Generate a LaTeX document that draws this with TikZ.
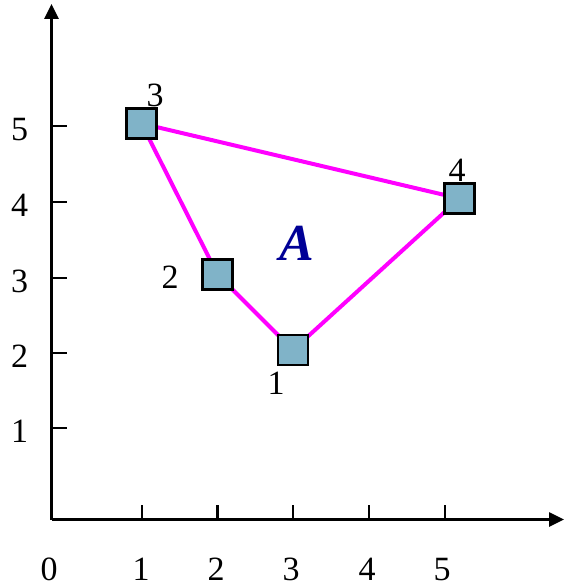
\documentclass[tikz,border=0pt]{standalone}
\usepackage{fontspec}
\setmainfont{Liberation Serif}
\usetikzlibrary{arrows.meta,backgrounds}
\definecolor{sqfill}{RGB}{128,179,200}
\definecolor{edgemag}{RGB}{255,0,255}
\definecolor{labblue}{RGB}{0,0,150}
\tikzset{
  axisline/.style={line width=2.6pt,-{Triangle[length=15pt,width=14pt]}},
  tickline/.style={line width=2.4pt},
  numlab/.style={font=\fontsize{34}{36}\selectfont,inner sep=0pt},
  ptbox/.style={draw=black,line width=2.4pt,fill=sqfill,minimum size=30pt,inner sep=0pt},
  edge/.style={draw=edgemag,line width=4pt}
}
\begin{document}
\begin{tikzpicture}[x=1pt,y=-1pt]
\useasboundingbox (0,0) rectangle (564,586);
% axes
\coordinate (O) at (51.5,519.5);
\coordinate (xend) at (564,519.5);
\coordinate (yend) at (51.5,4);
\draw[axisline] (O) -- (xend);
\draw[axisline] (O) -- (yend);
% x ticks
\foreach \x/\n in {142/1,217.6/2,293/3,368.7/4,445/5}
  \draw[tickline] (\x,519.5) -- (\x,505);
% y ticks
\foreach \y in {126,202,278,353,428}
  \draw[tickline] (51.5,\y) -- (67,\y);
% x labels
\foreach \x/\n in {49/0,141/1,216/2,291/3,367/4,442/5}
  \node[numlab] (xl\n) at (\x,569.5) {\n};
% y labels
\foreach \y/\n in {129.5/5,205.5/4,281.5/3,356.5/2,431.5/1}
  \node[numlab] (yl\n) at (19.5,\y) {\n};
% points
\node[ptbox] (p1) at (293,350) {};
\node[ptbox] (p2) at (217.5,274.5) {};
\node[ptbox] (p3) at (141.5,123.5) {};
\node[ptbox] (p4) at (459.5,198.5) {};
\begin{scope}[on background layer]
\draw[edge] (p3.center) -- (p4.center) -- (p1.center) -- (p2.center) -- (p3.center);
\end{scope}
% point labels
\node[numlab] (l3) at (155,95.5) {3};
\node[numlab] (l4) at (457,170) {4};
\node[numlab] (l2) at (170,277) {2};
\node[numlab] (l1) at (276,383) {1};
% area label
\node[inner sep=0pt,text=labblue,font=\fontsize{52}{56}\selectfont\bfseries\itshape] (A) at (297,243) {A};
\end{tikzpicture}
\end{document}
